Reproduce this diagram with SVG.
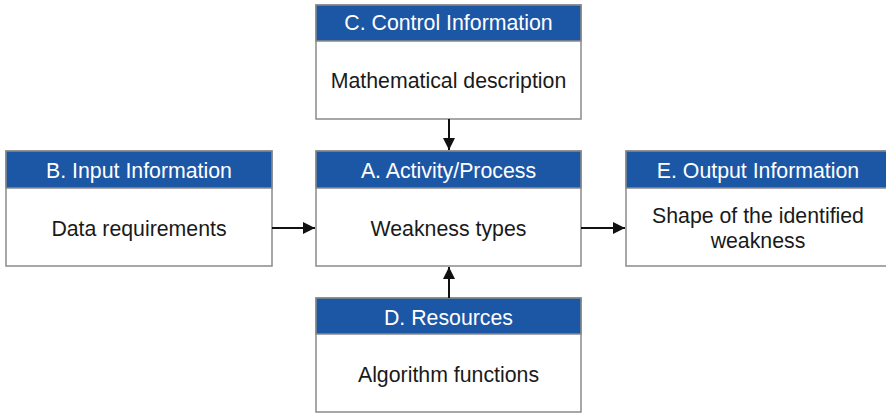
<svg xmlns="http://www.w3.org/2000/svg" width="886" height="413" viewBox="0 0 886 413">
<style>
.box{fill:#fff;stroke:#8a8a8a;stroke-width:1.5}
.hdr{fill:#1c57a5;stroke:#8a8a8a;stroke-width:1.5}
.ht{font-family:"Liberation Sans",Arial,sans-serif;font-size:21.3px;fill:#fff;text-anchor:middle}
.bt{font-family:"Liberation Sans",Arial,sans-serif;font-size:21.3px;fill:#1a1a1a;text-anchor:middle}
.con{stroke:#111;stroke-width:2;fill:none;marker-end:url(#ah)}
</style>
<defs>
<marker id="ah" viewBox="0 0 10 10" refX="10" refY="5" markerWidth="6" markerHeight="6" markerUnits="strokeWidth" orient="auto">
<path d="M0,0 L10,5 L0,10 z" fill="#111"/>
</marker>
</defs>
<rect width="886" height="413" fill="#fff"/>
<g id="C">
<rect class="box" x="316" y="5" width="265" height="114"/>
<rect class="hdr" x="316" y="5" width="265" height="36"/>
<text class="ht" x="448.5" y="30">C. Control Information</text>
<text class="bt" x="448.5" y="87.5">Mathematical description</text>
</g>
<g id="B">
<rect class="box" x="6" y="151" width="266" height="115"/>
<rect class="hdr" x="6" y="151" width="266" height="37"/>
<text class="ht" x="139" y="177.5">B. Input Information</text>
<text class="bt" x="139" y="235.5">Data requirements</text>
</g>
<g id="A">
<rect class="box" x="316" y="151" width="265" height="115"/>
<rect class="hdr" x="316" y="151" width="265" height="37"/>
<text class="ht" x="448.5" y="177.5">A. Activity/Process</text>
<text class="bt" x="448.5" y="235.5">Weakness types</text>
</g>
<g id="E">
<rect class="box" x="626" y="151" width="265" height="115"/>
<rect class="hdr" x="626" y="151" width="265" height="37"/>
<text class="ht" x="758" y="177.5">E. Output Information</text>
<text class="bt" x="758" y="222.5">Shape of the identified</text>
<text class="bt" x="758" y="247.5">weakness</text>
</g>
<g id="D">
<rect class="box" x="316" y="298" width="265" height="114"/>
<rect class="hdr" x="316" y="298" width="265" height="36"/>
<text class="ht" x="448.5" y="324.5">D. Resources</text>
<text class="bt" x="448.5" y="381.5">Algorithm functions</text>
</g>
<g id="connectors">
<line class="con" x1="449" y1="119" x2="449" y2="150"/>
<line class="con" x1="272" y1="228" x2="315" y2="228"/>
<line class="con" x1="581" y1="228" x2="625" y2="228"/>
<line class="con" x1="449" y1="298" x2="449" y2="267"/>
</g>
</svg>
